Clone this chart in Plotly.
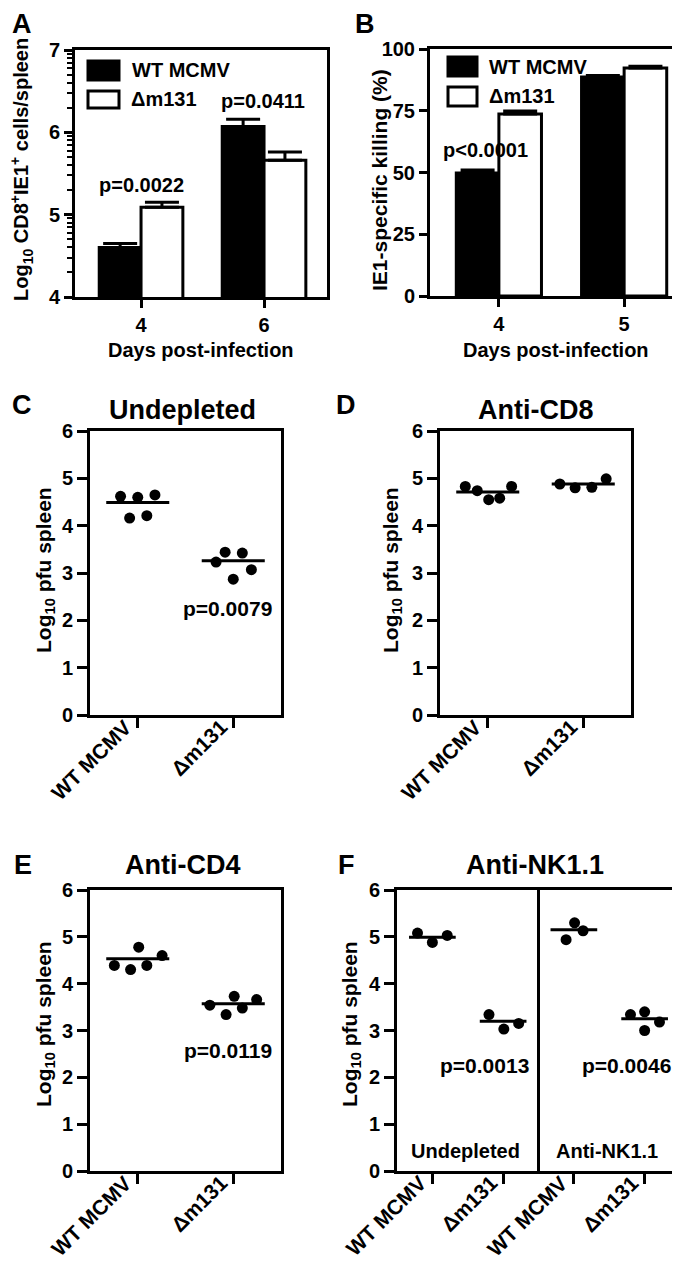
import math
import plotly.graph_objects as go

W, H = 680, 1261
FONT = "Liberation Sans, Arial, sans-serif"

# ---------------- DATA ----------------
# Panel A: Log10 CD8+IE1+ cells/spleen (mean, SEM)
A_days = ["4", "6"]
A_wt_mean = [4.60, 6.07]
A_wt_sem = [0.05, 0.09]
A_dm_mean = [5.09, 5.66]
A_dm_sem = [0.06, 0.10]
A_pvalues = ["p=0.0022", "p=0.0411"]

# Panel B: IE1-specific killing (%)
B_days = ["4", "5"]
B_wt_mean = [49.8, 88.7]
B_wt_sem = [1.2, 0.6]
B_dm_mean = [73.7, 92.3]
B_dm_sem = [1.2, 0.7]
B_pvalue = "p<0.0001"

series_names = ["WT MCMV", "Δm131"]
groups = ["WT MCMV", "Δm131"]

# Panel C: Undepleted
C_wt = [4.62, 4.60, 4.65, 4.16, 4.21]
C_dm = [3.23, 3.44, 3.42, 2.87, 3.07]
C_means = [4.49, 3.26]
C_p = "p=0.0079"

# Panel D: Anti-CD8
D_wt = [4.83, 4.74, 4.55, 4.58, 4.83]
D_dm = [4.88, 4.80, 4.81, 4.99]
D_means = [4.71, 4.88]

# Panel E: Anti-CD4
E_wt = [4.39, 4.30, 4.78, 4.39, 4.60]
E_dm = [3.54, 3.34, 3.73, 3.48, 3.66]
E_means = [4.53, 3.57]
E_p = "p=0.0119"

# Panel F: Anti-NK1.1
F_groups = ["WT MCMV", "Δm131", "WT MCMV", "Δm131"]
F_und_wt = [5.08, 4.88, 5.03]
F_und_dm = [3.34, 3.03, 3.15]
F_nk_wt = [4.94, 5.30, 5.13]
F_nk_dm = [3.34, 3.40, 3.00, 3.18]
F_means = [4.99, 3.20, 5.15, 3.25]
F_p = ["p=0.0013", "p=0.0046"]
F_conditions = ["Undepleted", "Anti-NK1.1"]

titles = ["Undepleted", "Anti-CD8", "Anti-CD4", "Anti-NK1.1"]

# ---------------- LAYOUT CONSTANTS ----------------
# horizontal spread of dots (category units), GraphPad-like scatter
JIT = {
    "C": [[-0.18, 0.0, 0.18, -0.085, 0.095], [-0.18, -0.085, 0.095, 0.0, 0.19]],
    "D": [[-0.235, -0.11, 0.01, 0.125, 0.25], [-0.245, -0.085, 0.09, 0.24]],
    "E": [[-0.245, -0.075, 0.01, 0.095, 0.255], [-0.245, -0.075, 0.01, 0.095, 0.245]],
    "F": [[-0.21, 0.0, 0.21], [-0.2, 0.01, 0.22], [-0.11, 0.01, 0.13], [-0.2, 0.0, 0.0, 0.21]],
}
MEAN_HALF = 0.33

# panel boxes in pixels: (x0, x1, y0_top, y1_bottom)
BOX = {
    "A": (67, 319, 42, 289),
    "B": (422, 675, 41, 288),
    "C": (82, 273, 423, 707),
    "D": (432, 623, 423, 707),
    "E": (82, 273, 882, 1163),
    "F": (389, 672, 882, 1163),
}
AX = {"A": "", "B": "2", "C": "3", "D": "4", "E": "5", "F": "6"}


def px(x):
    return x / W


def py(y):
    return 1 - y / H


fig = go.Figure()

base_axis = dict(
    showline=True, linewidth=3, linecolor="black", mirror=True,
    ticks="outside", tickwidth=3, tickcolor="black",
    showgrid=False, zeroline=False, automargin=False,
    tickfont=dict(family=FONT, size=20, color="black", weight="bold"),
)

layout_axes = {}
for key, (x0, x1, y0, y1) in BOX.items():
    n = AX[key]
    xa = dict(base_axis, domain=[px(x0), px(x1)], anchor="y" + n)
    ya = dict(base_axis, domain=[py(y1), py(y0)], anchor="x" + n)
    layout_axes["xaxis" + n] = xa
    layout_axes["yaxis" + n] = ya

# Panel A / B axes
layout_axes["xaxis"].update(range=[-0.537, 1.512], tickvals=[0, 1], ticktext=A_days, ticklen=8)
layout_axes["yaxis"].update(
    range=[4, 7], tickvals=[4, 5, 6, 7], ticklen=8,
    minor=dict(tickvals=[d + math.log10(k) for d in (4, 5, 6) for k in range(2, 10)],
               ticks="outside", ticklen=5, tickwidth=2, tickcolor="black"),
)
layout_axes["xaxis2"].update(range=[-0.55, 1.47], tickvals=[0, 1], ticktext=B_days, ticklen=8)
layout_axes["yaxis2"].update(range=[0, 100], tickvals=[0, 25, 50, 75, 100], ticklen=8)

for key in ["C", "D", "E"]:
    n = AX[key]
    layout_axes["xaxis" + n].update(range=[-0.5, 1.5], tickvals=[0, 1], ticklen=10,
                                    showticklabels=False)
    layout_axes["yaxis" + n].update(range=[0, 6], tickvals=list(range(7)), ticklen=10)
layout_axes["xaxis6"].update(range=[-0.5, 3.5], tickvals=[0, 1, 2, 3], ticklen=10,
                             showticklabels=False)
layout_axes["yaxis6"].update(range=[0, 6], tickvals=list(range(7)), ticklen=10)

# ---------------- BARS (A, B) ----------------
def add_bars(n, means, sems, fill, name):
    fig.add_trace(go.Bar(
        x=[0, 1], y=means, name=name, xaxis="x" + n, yaxis="y" + n,
        marker=dict(color=fill, line=dict(color="black", width=3)),
        error_y=dict(type="data", array=sems, arrayminus=[0] * len(sems), symmetric=False,
                     color="black", thickness=3, width=17),
        showlegend=False,
    ))

add_bars("", A_wt_mean, A_wt_sem, "black", series_names[0])
add_bars("", A_dm_mean, A_dm_sem, "white", series_names[1])
add_bars("2", B_wt_mean, B_wt_sem, "black", series_names[0])
add_bars("2", B_dm_mean, B_dm_sem, "white", series_names[1])

# ---------------- SCATTER (C-F) ----------------
def add_dots(n, cat, vals, jit, mean):
    fig.add_trace(go.Scatter(
        x=[cat + j for j in jit], y=vals, mode="markers", xaxis="x" + n, yaxis="y" + n,
        marker=dict(color="black", size=11, line=dict(width=0)), showlegend=False,
    ))
    fig.add_trace(go.Scatter(
        x=[cat - MEAN_HALF, cat + MEAN_HALF], y=[mean, mean], mode="lines",
        xaxis="x" + n, yaxis="y" + n, line=dict(color="black", width=3), showlegend=False,
    ))

add_dots("3", 0, C_wt, JIT["C"][0], C_means[0])
add_dots("3", 1, C_dm, JIT["C"][1], C_means[1])
add_dots("4", 0, D_wt, JIT["D"][0], D_means[0])
add_dots("4", 1, D_dm, JIT["D"][1], D_means[1])
add_dots("5", 0, E_wt, JIT["E"][0], E_means[0])
add_dots("5", 1, E_dm, JIT["E"][1], E_means[1])
for i, vals in enumerate([F_und_wt, F_und_dm, F_nk_wt, F_nk_dm]):
    add_dots("6", i, vals, JIT["F"][i], F_means[i])

# ---------------- SHAPES ----------------
shapes = []
# divider in F
shapes.append(dict(type="line", xref="x6", yref="y6 domain", x0=1.5, x1=1.5, y0=0, y1=1,
                   line=dict(color="black", width=3)))
# legends for A and B (swatches)
for (bx0, bx1, by0, by1, fill) in [(80, 111, 53, 72, "black"), (80, 111, 83, 100, "white"),
                                    (440, 469, 49, 68, "black"), (440, 469, 79, 98, "white")]:
    shapes.append(dict(type="rect", xref="paper", yref="paper",
                       x0=px(bx0), x1=px(bx1), y0=py(by1), y1=py(by0),
                       fillcolor=fill, line=dict(color="black", width=3)))

# ---------------- ANNOTATIONS ----------------
ann = []


def txt(x, y, s, size=20, xanchor="center", yanchor="middle", angle=0, xref="paper", yref="paper",
        xshift=0, yshift=0):
    ann.append(dict(x=x, y=y, xref=xref, yref=yref, text=s, showarrow=False,
                    xanchor=xanchor, yanchor=yanchor, textangle=angle, borderpad=0,
                    xshift=xshift, yshift=yshift,
                    font=dict(family=FONT, size=size, color="black", weight="bold")))


# rotated category labels (C-F), ending at their tick
for key, labels in [("C", groups), ("D", groups), ("E", groups), ("F", F_groups)]:
    n = AX[key]
    bottom = BOX[key][3]
    for i, lab in enumerate(labels):
        txt(i, py(bottom), lab, size=21, xanchor="right", yanchor="top", angle=-45,
            xref="x" + n, yref="paper", xshift=0, yshift=1)

# panel letters
for letter, (lx, ly) in {"A": (14, 16), "B": (357, 16), "C": (14, 397), "D": (338, 397),
                         "E": (15, 857), "F": (338, 857)}.items():
    txt(px(lx), py(ly), letter, size=27)

# panel titles
for t, (tx, ty) in zip(titles, [(175, 402), (528, 402), (175, 857), (527, 857)]):
    txt(px(tx), py(ty), t, size=27)

# legends text
txt(px(123), py(62), series_names[0], xanchor="left")
txt(px(122), py(91), series_names[1], xanchor="left")
txt(px(480), py(59), series_names[0], xanchor="left")
txt(px(480), py(88), series_names[1], xanchor="left")

# axis titles
txt(px(193), py(342), "Days post-infection")
txt(px(548), py(342), "Days post-infection")
txt(px(14), py(162), "Log<sub>10</sub> CD8<sup>+</sup>IE1<sup>+</sup> cells/spleen", angle=-90)
txt(px(372), py(172), "IE1-specific killing (%)", size=21, angle=-90)
for (ax_x, ax_y) in [(37, 562), (384, 562), (37, 1016), (343, 1016)]:
    txt(px(ax_x), py(ax_y), "Log<sub>10</sub> pfu spleen", size=21, angle=-90)

# p-values (data coords)
txt(0.0, 5.36, A_pvalues[0], xref="x", yref="y")
txt(0.99, 6.38, A_pvalues[1], xref="x", yref="y")
txt(-0.11, 59.1, B_pvalue, xref="x2", yref="y2")
txt(0.94, 2.26, C_p, size=21, xref="x3", yref="y3")
txt(0.94, 2.58, E_p, size=21, xref="x5", yref="y5")
txt(0.74, 2.26, F_p[0], size=21, xref="x6", yref="y6")
txt(2.74, 2.26, F_p[1], size=21, xref="x6", yref="y6")
txt(0.475, 0.43, F_conditions[0], xref="x6", yref="y6")
txt(2.47, 0.43, F_conditions[1], xref="x6", yref="y6")

fig.update_layout(
    width=W, height=H, margin=dict(l=0, r=0, t=0, b=0, autoexpand=False),
    paper_bgcolor="white", plot_bgcolor="white",
    font=dict(family=FONT, size=20, color="black", weight="bold"),
    barmode="group", bargap=0.32, bargroupgap=0,
    showlegend=False, shapes=shapes, annotations=ann,
    **layout_axes,
)

fig.write_html("out.html")
